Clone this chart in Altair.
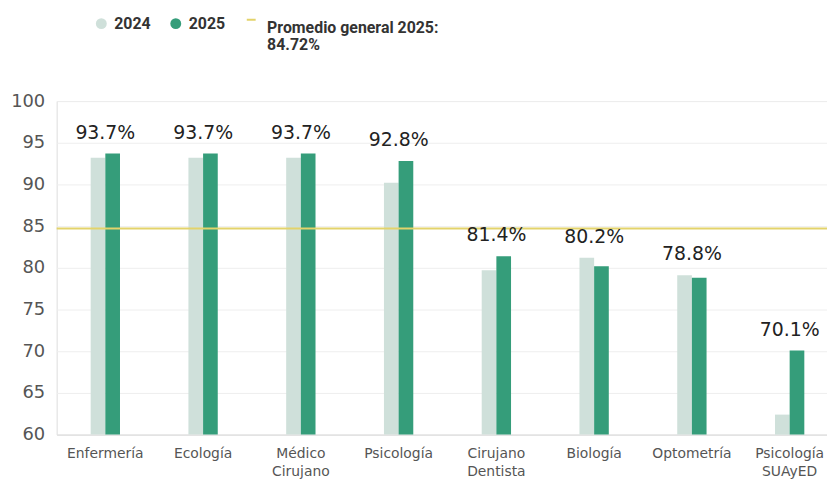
import altair as alt
import pandas as pd

categories = ["Enfermería", "Ecología", "Médico\nCirujano", "Psicología",
              "Cirujano\nDentista", "Biología", "Optometría", "Psicología\nSUAyED"]
v2024 = [93.2, 93.2, 93.2, 90.2, 79.7, 81.2, 79.1, 62.4]
v2025 = [93.7, 93.7, 93.7, 92.8, 81.4, 80.2, 78.8, 70.1]
avg_2025 = 84.72
avg_name = "Promedio general 2025: 84.72%"
years = ["2024", "2025"]
bar_colors = ["#cfe0da", "#359d7a"]
avg_color = "#e3d36b"
y_ticks = [60, 65, 70, 75, 80, 85, 90, 95, 100]

rows = []
for c, a, b in zip(categories, v2024, v2025):
    rows.append({"cat": c, "series": "2024", "value": a})
    rows.append({"cat": c, "series": "2025", "value": b})
bars_df = pd.DataFrame(rows)

labels_df = pd.DataFrame({
    "cat": categories,
    "top": [max(a, b) for a, b in zip(v2024, v2025)],
    "label": [f"{b:.1f}%" for b in v2025],
})
avg_df = pd.DataFrame({"avg": [avg_2025], "series": [avg_name]})

x_scale = alt.Scale(domain=categories, paddingInner=0.7, paddingOuter=0.29, align=0.6)
y_scale = alt.Scale(domain=[60, 100], nice=False)

common_legend = dict(
    orient="none", direction="horizontal", title=None,
    labelFont="Roboto", labelFontSize=16, labelFontWeight="bold", labelColor="#333333",
    labelLimit=400,
)

bars = alt.Chart(bars_df).mark_bar().encode(
    x=alt.X("cat:N", scale=x_scale, sort=categories,
            axis=alt.Axis(title=None, labelAngle=0, ticks=False, domainColor="#dddddd",
                          labelFont="DejaVu Sans", labelFontSize=14, labelColor="#555555",
                          labelPadding=12, labelLineHeight=18,
                          labelExpr="split(datum.label, '\\n')")),
    xOffset=alt.XOffset("series:N", scale=alt.Scale(domain=years, paddingInner=0, paddingOuter=0)),
    y=alt.Y("value:Q", scale=y_scale,
            axis=alt.Axis(title=None, values=y_ticks, ticks=False, domain=False,
                          gridColor="#eeeeee", labelFont="DejaVu Sans", labelFontSize=18,
                          labelColor="#555555", labelPadding=12)),
    y2=alt.datum(60),
    color=alt.Color("series:N", scale=alt.Scale(domain=years, range=bar_colors),
                    legend=alt.Legend(legendX=37, legendY=-86, symbolType="circle",
                                      symbolSize=120, labelBaseline="middle",
                                      labelOffset=5, columnPadding=17,
                                      **common_legend)),
)

rule = alt.Chart(avg_df).mark_rule(strokeWidth=2, color=avg_color).encode(
    y=alt.Y("avg:Q", scale=y_scale),
    strokeDash=alt.StrokeDash(
        "series:N", scale=alt.Scale(domain=[avg_name], range=[[1, 0]]),
        legend=alt.Legend(
            legendX=188, legendY=-90, symbolType="stroke", symbolSize=80,
            symbolStrokeColor=avg_color, symbolStrokeWidth=2, labelBaseline="top",
            labelOffset=8,
            labelExpr="[substring(datum.label, 0, indexof(datum.label, ':') + 1), substring(datum.label, indexof(datum.label, ':') + 2)]",
            **common_legend)),
)

text = alt.Chart(labels_df).mark_text(
    font="DejaVu Sans", fontSize=19, color="#222222", dy=-21, baseline="middle"
).encode(
    x=alt.X("cat:N", scale=x_scale, sort=categories),
    y=alt.Y("top:Q", scale=y_scale),
    text="label:N",
)

chart = alt.layer(bars, rule, text).properties(
    width=776, height=336,
    autosize=alt.AutoSizeParams(type="none"),
    padding={"left": 49, "top": 92, "right": 0, "bottom": 48},
).configure_view(stroke=None).configure(background="white")

chart.save("out.html", embed_options={"renderer": "svg", "actions": False})
